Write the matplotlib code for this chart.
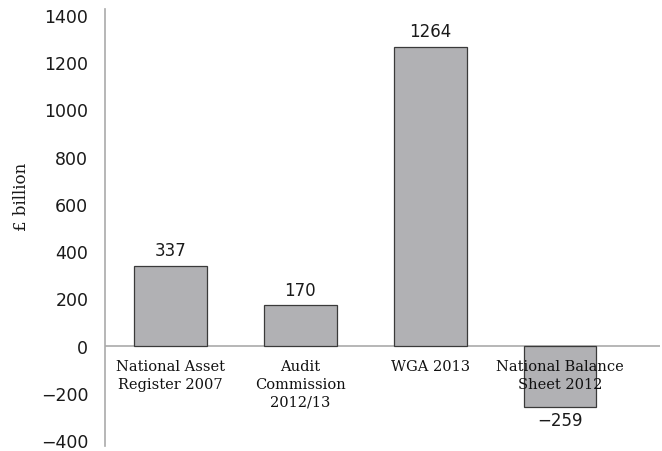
import matplotlib
matplotlib.use("Agg")
import matplotlib.pyplot as plt

categories = ["National Asset\nRegister 2007", "Audit\nCommission\n2012/13", "WGA 2013", "National Balance\nSheet 2012"]
values = [337, 170, 1264, -259]
yticks = [-400, -200, 0, 200, 400, 600, 800, 1000, 1200, 1400]

fig = plt.figure(figsize=(6.62, 4.52), dpi=100)
top_px, bot_px = 10, 447
ax = fig.add_axes([105/662, 1 - bot_px/452, 555/662, (bot_px - top_px)/452])

x = list(range(len(values)))
ax.bar(x, values, width=0.56, color="#b1b1b4", edgecolor="#3a3a3a", linewidth=0.9, zorder=2)

ax.set_xlim(-0.505, 3.77)
ax.set_ylim(-425, 1425)

ax.set_yticks(yticks)
ax.set_yticklabels([f"\u2212{abs(v)}" if v < 0 else str(v) for v in yticks],
                   fontsize=12.5, family="DejaVu Sans", color="#1a1a1a")
ax.tick_params(axis="y", length=0, pad=12)
ax.set_xticks([])

for s in ["top", "right", "bottom"]:
    ax.spines[s].set_visible(False)
ax.spines["left"].set_color("#aaaaaa")
ax.spines["left"].set_linewidth(1.2)
ax.axhline(0, color="#aaaaaa", linewidth=1.2, zorder=1)

fig.text(22/662, 1 - 197/452, "£ billion", family="DejaVu Serif", fontsize=12,
         rotation=90, ha="center", va="center", color="#1a1a1a")

for xi, v, c in zip(x, values, categories):
    if v >= 0:
        ax.annotate(str(v), (xi, v), xytext=(0, 5), textcoords="offset points",
                    ha="center", va="bottom", fontsize=12, family="DejaVu Sans", color="#1a1a1a")
    else:
        ax.annotate(f"\u2212{abs(v)}", (xi, v), xytext=(0, -3), textcoords="offset points",
                    ha="center", va="top", fontsize=12, family="DejaVu Sans", color="#1a1a1a")
    ax.annotate(c, (xi, 0), xytext=(0, -10), textcoords="offset points",
                ha="center", va="top", fontsize=10.5, family="DejaVu Serif",
                linespacing=1.3, color="#111111", zorder=5)

fig.savefig("out.png", dpi=100)
